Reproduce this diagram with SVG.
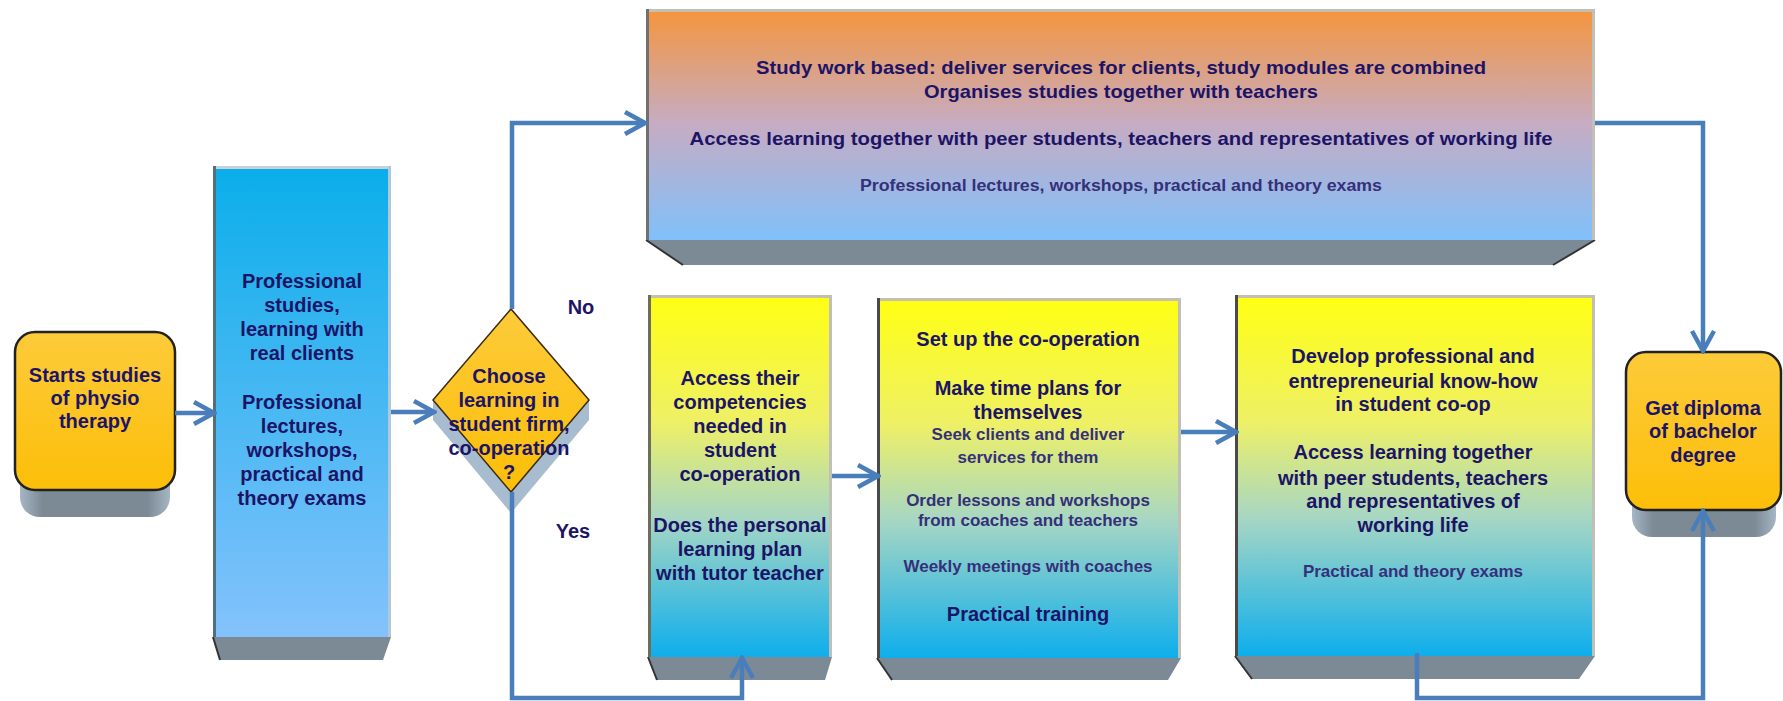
<svg xmlns="http://www.w3.org/2000/svg" width="1783" height="701" viewBox="0 0 1783 701">
<defs>
<linearGradient id="gTop" x1="0" y1="0" x2="0" y2="1">
<stop offset="0" stop-color="#F5953C"/>
<stop offset="0.5" stop-color="#C6ACC4"/>
<stop offset="1" stop-color="#80C0FA"/>
</linearGradient>
<linearGradient id="gBlue" x1="0" y1="0" x2="0" y2="1">
<stop offset="0" stop-color="#0AAEEA"/>
<stop offset="1" stop-color="#84C2FC"/>
</linearGradient>
<linearGradient id="gYel" x1="0" y1="0" x2="0" y2="1">
<stop offset="0" stop-color="#FFFF12"/>
<stop offset="0.35" stop-color="#EEF066"/>
<stop offset="0.62" stop-color="#A6D6C4"/>
<stop offset="1" stop-color="#0EAEEC"/>
</linearGradient>
<linearGradient id="gOr" x1="0" y1="0" x2="0" y2="1">
<stop offset="0" stop-color="#FDCB3A"/>
<stop offset="1" stop-color="#FCBE08"/>
</linearGradient>
<linearGradient id="gBase" x1="0" y1="0" x2="1" y2="0">
<stop offset="0" stop-color="#A6B6C4"/>
<stop offset="0.15" stop-color="#7C8A96"/>
<stop offset="0.85" stop-color="#7C8A96"/>
<stop offset="1" stop-color="#A6B6C4"/>
</linearGradient>
<marker id="ah" markerUnits="userSpaceOnUse" markerWidth="26" markerHeight="28" viewBox="0 0 26 28" refX="23" refY="14" orient="auto">
<path d="M3,3 L23,14 L3,25" fill="none" stroke="#4A7EBB" stroke-width="4.5"/>
</marker>
</defs>
<style>
.t{font-family:"Liberation Sans",Arial,sans-serif;font-weight:bold;font-size:20px;fill:#1C1466;text-anchor:middle}
.s{font-size:17px;fill:#35307A}
.base{fill:#7C8A96}
.edgeL{stroke:#4A4A4A;stroke-width:3}
.edgeT{stroke:#C4C0B0;stroke-width:3}
.edgeR{stroke:#C0C0B8;stroke-width:3}
.bev{fill:none;stroke:#333333;stroke-width:2}
.c{fill:none;stroke:#4A7EBB;stroke-width:4.5;marker-end:url(#ah)}
.orn{fill:url(#gOr);stroke:#222222;stroke-width:2.5}
</style>

<g id="start">
<rect x="20" y="460" width="150" height="57" rx="20" fill="url(#gBase)"/>
<rect class="orn" x="15" y="332" width="160" height="158" rx="20"/>
<text class="t" x="95" y="382">Starts studies</text>
<text class="t" x="95" y="405">of physio</text>
<text class="t" x="95" y="428">therapy</text>
</g>

<g id="professional">
<polygon class="base" points="213,637 391,637 383,660 220,660"/>
<line class="bev" x1="213" y1="637" x2="220" y2="660"/>
<rect x="213" y="166" width="178" height="471" fill="url(#gBlue)"/>
<line class="edgeT" x1="213" y1="167.5" x2="391" y2="167.5" style="stroke:#C8D0D8"/>
<line class="edgeL" x1="214.5" y1="166" x2="214.5" y2="637" style="stroke:#507080"/>
<line class="edgeR" x1="389.5" y1="166" x2="389.5" y2="637" style="stroke:#B0C8D8"/>
<text class="t" x="302" y="288">Professional</text>
<text class="t" x="302" y="312">studies,</text>
<text class="t" x="302" y="336">learning with</text>
<text class="t" x="302" y="360">real clients</text>
<text class="t" x="302" y="409">Professional</text>
<text class="t" x="302" y="433">lectures,</text>
<text class="t" x="302" y="457">workshops,</text>
<text class="t" x="302" y="481">practical and</text>
<text class="t" x="302" y="505">theory exams</text>
</g>

<g id="decision">
<polygon points="433,400 511,492 589,400 589,420 511,513 433,420" fill="#A8BCD0"/>
<polygon points="433,400 511,309 589,400 511,492" fill="url(#gOr)" stroke="#3A2A10" stroke-width="1.5"/>
<text class="t" x="509" y="383">Choose</text>
<text class="t" x="509" y="407">learning in</text>
<text class="t" x="509" y="431">student firm,</text>
<text class="t" x="509" y="455">co-operation</text>
<text class="t" x="509" y="479">?</text>
</g>

<g id="work-based">
<polygon class="base" points="646,240 1595,240 1553,265 683,265"/>
<line class="bev" x1="646" y1="240" x2="683" y2="265"/>
<line class="bev" x1="1595" y1="240" x2="1553" y2="265"/>
<rect x="646" y="9" width="949" height="231" fill="url(#gTop)"/>
<line class="edgeT" x1="646" y1="10.5" x2="1595" y2="10.5"/>
<line class="edgeL" x1="647.5" y1="9" x2="647.5" y2="240" style="stroke:#707070"/>
<line class="edgeR" x1="1593.5" y1="9" x2="1593.5" y2="240"/>
<text class="t" x="1121" y="74" style="font-size:19px" textLength="730" lengthAdjust="spacingAndGlyphs">Study work based: deliver services for clients, study modules are combined</text>
<text class="t" x="1121" y="98" style="font-size:19px" textLength="394" lengthAdjust="spacingAndGlyphs">Organises studies together with teachers</text>
<text class="t" x="1121" y="145" style="font-size:19px" textLength="863" lengthAdjust="spacingAndGlyphs">Access learning together with peer students, teachers and representatives of working life</text>
<text class="t s" x="1121" y="191" style="font-size:16px" textLength="522" lengthAdjust="spacingAndGlyphs">Professional lectures, workshops, practical and theory exams</text>
</g>

<g id="assess">
<polygon class="base" points="648,657 832,657 825,680 657,680"/>
<line class="bev" x1="648" y1="657" x2="657" y2="680"/>
<rect x="648" y="295" width="184" height="362" fill="url(#gYel)"/>
<line class="edgeT" x1="648" y1="296.5" x2="832" y2="296.5"/>
<line class="edgeL" x1="649.5" y1="295" x2="649.5" y2="657" style="stroke:#6A6E5A"/>
<line class="edgeR" x1="830.5" y1="295" x2="830.5" y2="657"/>
<text class="t" x="740" y="385">Access their</text>
<text class="t" x="740" y="409">competencies</text>
<text class="t" x="740" y="433">needed in</text>
<text class="t" x="740" y="457">student</text>
<text class="t" x="740" y="481">co-operation</text>
<text class="t" x="740" y="532">Does the personal</text>
<text class="t" x="740" y="556">learning plan</text>
<text class="t" x="740" y="580">with tutor teacher</text>
</g>

<g id="setup">
<polygon class="base" points="877,658 1181,658 1168,680 892,680"/>
<line class="bev" x1="877" y1="658" x2="892" y2="680"/>
<rect x="877" y="298" width="304" height="360" fill="url(#gYel)"/>
<line class="edgeT" x1="877" y1="299.5" x2="1181" y2="299.5"/>
<line class="edgeL" x1="878.5" y1="298" x2="878.5" y2="658"/>
<line class="edgeR" x1="1179.5" y1="298" x2="1179.5" y2="658"/>
<text class="t" x="1028" y="346">Set up the co-operation</text>
<text class="t" x="1028" y="395">Make time plans for</text>
<text class="t" x="1028" y="419">themselves</text>
<text class="t s" x="1028" y="440">Seek clients and deliver</text>
<text class="t s" x="1028" y="463">services for them</text>
<text class="t s" x="1028" y="506">Order lessons and workshops</text>
<text class="t s" x="1028" y="526">from coaches and teachers</text>
<text class="t s" x="1028" y="572">Weekly meetings with coaches</text>
<text class="t" x="1028" y="621">Practical training</text>
</g>

<g id="develop">
<polygon class="base" points="1235,656 1595,656 1579,679 1252,679"/>
<line class="bev" x1="1235" y1="656" x2="1252" y2="679"/>
<rect x="1235" y="295" width="360" height="361" fill="url(#gYel)"/>
<line class="edgeT" x1="1235" y1="296.5" x2="1595" y2="296.5"/>
<line class="edgeL" x1="1236.5" y1="295" x2="1236.5" y2="656"/>
<line class="edgeR" x1="1593.5" y1="295" x2="1593.5" y2="656"/>
<text class="t" x="1413" y="363">Develop professional and</text>
<text class="t" x="1413" y="388">entrepreneurial know-how</text>
<text class="t" x="1413" y="411">in student co-op</text>
<text class="t" x="1413" y="459">Access learning together</text>
<text class="t" x="1413" y="485">with peer students, teachers</text>
<text class="t" x="1413" y="508">and representatives of</text>
<text class="t" x="1413" y="532">working life</text>
<text class="t s" x="1413" y="577">Practical and theory exams</text>
</g>

<g id="diploma">
<rect x="1632" y="480" width="144" height="57" rx="20" fill="url(#gBase)"/>
<rect class="orn" x="1626" y="352" width="155" height="158" rx="20"/>
<text class="t" x="1703" y="415">Get diploma</text>
<text class="t" x="1703" y="438">of bachelor</text>
<text class="t" x="1703" y="462">degree</text>
</g>

<g id="labels">
<text class="t" x="581" y="314">No</text>
<text class="t" x="573" y="538">Yes</text>
</g>

<g id="connectors">
<path class="c" d="M175,413 H214"/>
<path class="c" d="M391,412 H434"/>
<path class="c" d="M512,309 V123 H645"/>
<path class="c" d="M512,492 V698 H742 V658"/>
<path class="c" d="M832,476 H878"/>
<path class="c" d="M1181,432 H1236"/>
<path class="c" d="M1595,123 H1703 V351"/>
<path class="c" d="M1417,653 V698 H1703 V511"/>
</g>
</svg>
